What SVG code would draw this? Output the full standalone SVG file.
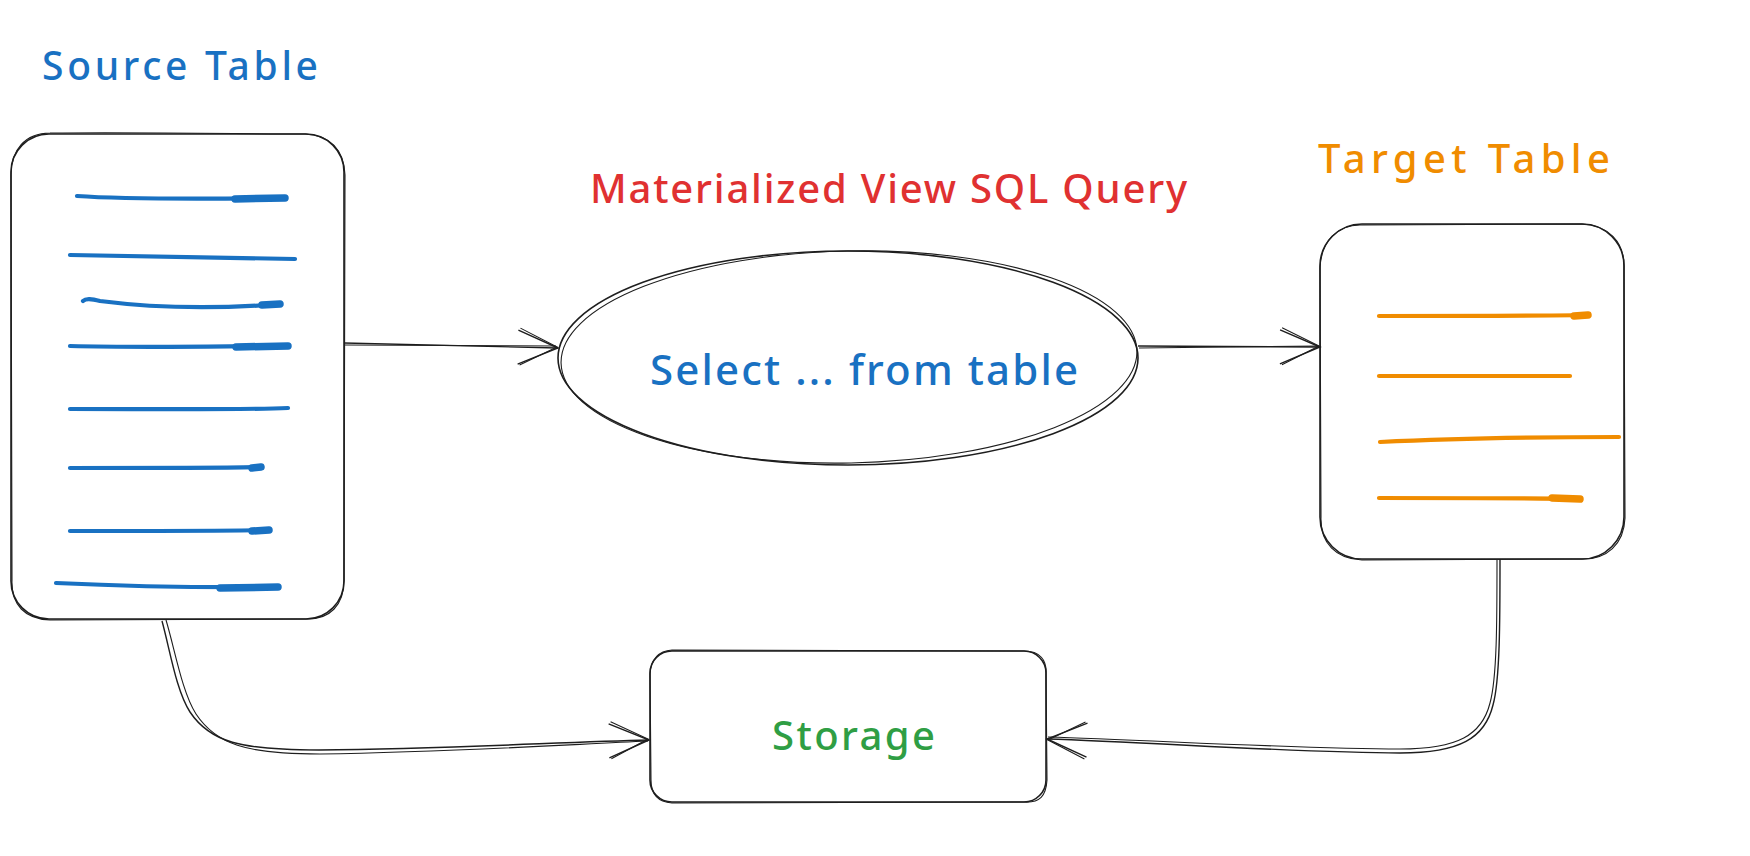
<svg xmlns="http://www.w3.org/2000/svg" width="1750" height="856" viewBox="0 0 1750 856">
<style>
.bg{fill:#ffffff}
.box{fill:#ffffff;stroke:#1e1e1e;stroke-width:1.6}
.sk{fill:none;stroke:#1e1e1e;stroke-width:1.1}
.con{fill:none;stroke:#1e1e1e;stroke-width:1.4}
.bl{fill:none;stroke:#1971c2;stroke-width:4.2;stroke-linecap:round}
.blt{fill:none;stroke:#1971c2;stroke-width:7.5;stroke-linecap:round}
.or{fill:none;stroke:#f08c00;stroke-width:4.2;stroke-linecap:round}
.ort{fill:none;stroke:#f08c00;stroke-width:7.5;stroke-linecap:round}
.t{font-family:"Noto Sans","Liberation Sans",sans-serif;font-weight:500}
</style>
<defs>
<marker id="ah" markerUnits="userSpaceOnUse" markerWidth="50" markerHeight="44" viewBox="0 0 50 44" refX="44" refY="22" orient="auto">
<path d="M4,5 L44,22 L4,39" fill="none" stroke="#1e1e1e" stroke-width="1.4"/>
<path d="M6,3 L43,21 L6,40" fill="none" stroke="#1e1e1e" stroke-width="1.1"/>
</marker>
</defs>
<rect class="bg" x="0" y="0" width="1750" height="856"/>

<g id="source-table">
<text class="t" x="42" y="80" font-size="39" fill="#1971c2" textLength="276" lengthAdjust="spacing">Source Table</text>
<rect class="box" x="11" y="134" width="333" height="485" rx="38"/>
<path class="sk" d="M50,133 C150,132 250,134 305,134 C330,135 344,150 345,175 L344,580 C344,605 330,620 305,619 L50,620 C25,619 11,605 12,580 L11,175 C11,150 25,133 50,133"/>
<path class="bl" d="M77,196 C120,199 200,199 286,198"/>
<path class="blt" d="M235,199 L285,198"/>
<path class="bl" d="M70,255 C150,256 230,258 295,259"/>
<path class="bl" d="M83,301 C86,298 92,299 100,301 C170,310 230,308 281,304"/>
<path class="blt" d="M262,305 L280,304"/>
<path class="bl" d="M70,346 C150,348 230,346 288,346"/>
<path class="blt" d="M236,347 L288,346"/>
<path class="bl" d="M70,409 C150,409 240,410 288,408"/>
<path class="bl" d="M70,468 C140,468 220,468 262,467"/>
<path class="blt" d="M252,468 L261,467"/>
<path class="bl" d="M70,531 C140,531 220,531 270,530"/>
<path class="blt" d="M252,531 L269,530"/>
<path class="bl" d="M56,583 C120,586 180,588 279,587"/>
<path class="blt" d="M220,588 L278,587"/>
</g>

<g id="mv-query">
<text class="t" x="590" y="203" font-size="40" fill="#e03131" textLength="597" lengthAdjust="spacing">Materialized View SQL Query</text>
<ellipse class="box" cx="848" cy="358" rx="290" ry="107"/>
<ellipse class="sk" cx="849" cy="357" rx="288" ry="106" transform="rotate(-1.2 849 357)"/>
<text class="t" x="650" y="385" font-size="42" fill="#1971c2" textLength="428" lengthAdjust="spacing">Select ... from table</text>
</g>

<g id="target-table">
<text class="t" x="1318" y="173" font-size="40" fill="#f08c00" textLength="292" lengthAdjust="spacing">Target Table</text>
<rect class="box" x="1320" y="224" width="304" height="335" rx="42"/>
<path class="sk" d="M1362,225 L1582,224 C1608,225 1625,242 1624,268 L1625,518 C1624,544 1607,560 1581,559 L1362,560 C1336,559 1320,543 1321,517 L1320,268 C1321,242 1337,224 1362,225"/>
<path class="or" d="M1379,316 C1450,316 1530,316 1588,315"/>
<path class="ort" d="M1574,316 L1588,315"/>
<path class="or" d="M1379,376 C1450,376 1520,376 1570,376"/>
<path class="or" d="M1380,442 C1460,438 1540,437 1619,437"/>
<path class="or" d="M1379,498 C1450,498 1520,498 1580,499"/>
<path class="ort" d="M1552,498 L1580,499"/>
</g>

<g id="storage">
<rect class="box" x="650" y="651" width="396" height="151" rx="22"/>
<path class="sk" d="M672,650 L1024,651 C1040,651 1047,660 1046,674 L1047,780 C1046,796 1040,803 1024,802 L672,803 C658,802 651,795 651,780 L650,674 C651,660 658,651 672,650"/>
<text class="t" x="772" y="750" font-size="40" fill="#2f9e44" textLength="163" lengthAdjust="spacing">Storage</text>
</g>

<g id="connectors">
<path class="con" d="M344,343 L558,348" marker-end="url(#ah)"/>
<path class="sk" d="M345,345 L556,346"/>
<path class="con" d="M1138,346 L1320,347" marker-end="url(#ah)"/>
<path class="sk" d="M1139,348 L1318,346"/>
<path class="con" d="M162,621 C170,650 176,690 190,712 C210,742 240,750 319,750 C450,749 560,742 649,740" marker-end="url(#ah)"/>
<path class="sk" d="M166,620 C175,650 182,692 196,714 C216,744 245,754 320,754 C455,752 560,745 648,741"/>
<path class="con" d="M1500,559 C1500,620 1500,680 1493,705 C1485,738 1460,753 1400,753 C1300,753 1150,742 1047,739" marker-end="url(#ah)"/>
<path class="sk" d="M1497,560 C1497,620 1497,678 1490,703 C1482,735 1458,749 1400,749 C1300,749 1150,740 1048,737"/>
</g>
</svg>
